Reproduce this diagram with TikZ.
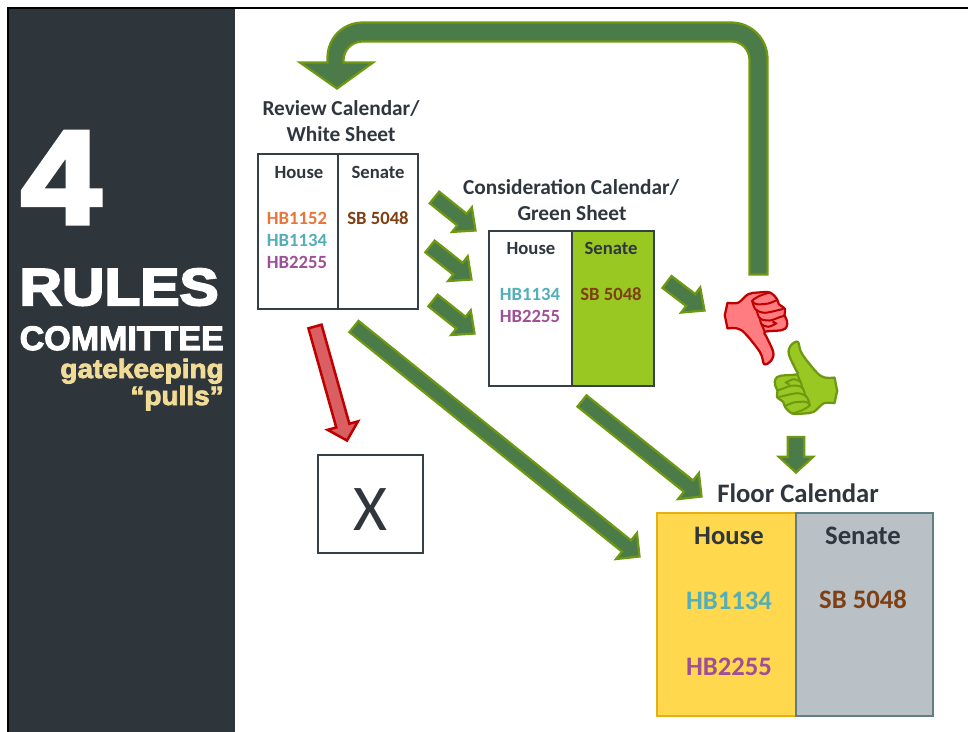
\documentclass[tikz,border=0pt]{standalone}
\usepackage{fontspec}
\setmainfont{Carlito}
\newfontfamily\fourfont{Liberation Sans}[BoldFeatures={FakeBold=4,FakeStretch=1.08}]
\newfontfamily\rulesfont{Liberation Sans}[BoldFeatures={FakeBold=4,FakeStretch=1.13}]
\newfontfamily\headfont{Liberation Sans}[BoldFeatures={FakeBold=3}]
\newfontfamily\notefont{Liberation Sans}[BoldFeatures={FakeBold=3,FakeStretch=1.05}]
\usetikzlibrary{calc}
\definecolor{panelgray}{HTML}{2E353B}
\definecolor{inkgray}{HTML}{2F363D}
\definecolor{boxgray}{HTML}{363E46}
\definecolor{arrowgreen}{HTML}{4A7B48}
\definecolor{arrowolive}{HTML}{6E9812}
\definecolor{arrowred}{HTML}{D95F63}
\definecolor{deepred}{HTML}{C00000}
\definecolor{thumbred}{HTML}{FF7C80}
\definecolor{sheetgreen}{HTML}{99C822}
\definecolor{floorgold}{HTML}{FFD84D}
\definecolor{floorgoldline}{HTML}{E6B012}
\definecolor{floorgray}{HTML}{B9C1C6}
\definecolor{floorgrayline}{HTML}{5F7F85}
\definecolor{billorange}{HTML}{E8763A}
\definecolor{billteal}{HTML}{52AEB8}
\definecolor{billpurple}{HTML}{9F4F98}
\definecolor{billbrown}{HTML}{7F3F14}
\definecolor{paledoor}{HTML}{F0DC96}
\tikzset{
	calbox/.style={draw=boxgray, line width=2.1pt, fill=white, inner sep=0, outer sep=0, minimum height=116.25pt},
	flowarrow/.style={draw=arrowolive, fill=arrowgreen, line width=1.7pt, line join=miter},
	stoparrow/.style={draw=deepred, fill=arrowred, line width=1.9pt, line join=miter},
	title/.style={anchor=base, text=inkgray, font=\fontsize{16}{16}\selectfont\bfseries},
	head/.style={anchor=base, text=inkgray, font=\fontsize{14}{14}\selectfont\bfseries},
	bill/.style={anchor=base, font=\fontsize{14}{14}\selectfont\bfseries},
	floorhead/.style={anchor=base, text=inkgray, font=\fontsize{20}{20}\selectfont\bfseries},
	floorbill/.style={anchor=base, font=\fontsize{20}{20}\selectfont\bfseries},
	sidetext/.style={anchor=base east, inner sep=0},
	pics/thumb/.style={code={
		\draw[line width=1.7pt, line join=round, pic actions] plot[smooth, tension=.55] coordinates {(-53.5,-50.2) (-43,-50.2) (-32.8,-58.8) (-22.8,-60.5) (-11.2,-60.5) (-4,-54) (-2.2,-49) (4,-44) (3.5,-38) (6,-32) (5.5,-26) (.5,-22.8) (-16.2,-21.2) (-14.5,-16.2) (-7.8,-1.2) (-9.5,7.2) (-16.8,11.2) (-21.2,-1.2) (-39.5,-22.8) (-53.5,-24.5)} -- (-56.2,-37.8) -- cycle;
		\draw[line width=1.5pt, line cap=round, pic actions, fill=none] plot[smooth] coordinates {(-11.2,-60.5) (-21.2,-57.2) (-28.8,-52.2) (-24.5,-48.8) (-12.8,-49.5) (-4,-53)};
		\draw[line width=1.5pt, line cap=round, pic actions, fill=none] plot[smooth] coordinates {(-28.8,-52.2) (-25.5,-43.5) (-16.2,-40.2) (-2.2,-43) (2,-44)};
		\draw[line width=1.5pt, line cap=round, pic actions, fill=none] plot[smooth] coordinates {(-24.5,-43.5) (-21.2,-34.5) (-11.2,-32.5) (-1,-36) (3,-37)};
		\draw[line width=1.5pt, line cap=round, pic actions, fill=none] plot[smooth] coordinates {(-21.2,-35.5) (-19.5,-28.8) (-12.8,-26.2) (-5,-29.5) (-8,-31)};
		\draw[line width=1.5pt, line cap=round, pic actions, fill=none] (-19.5,-28.8) -- (-16.2,-21.2);
	}},
}
\newcommand{\blockarrow}[6][flowarrow]{
	\coordinate (hb) at ($(#3)!#6!(#2)$);
	\draw[#1] ($(#2)!#4!90:(#3)$) -- ($(hb)!#4!-90:(#2)$) -- ($(hb)!#5!-90:(#2)$) -- (#3) -- ($(hb)!#5!90:(#2)$) -- ($(hb)!#4!90:(#2)$) -- ($(#2)!#4!-90:(#3)$) -- cycle;
}
\begin{document}
\begin{tikzpicture}[x=.75pt, y=-.75pt]
	\useasboundingbox (0,0) rectangle (968,732);
	\fill[panelgray] (8,8) rectangle (235,732);
	\draw[black, line width=1.9pt] (8,732) -- (8,8) -- (968,8);

	\node[sidetext, text=white, font=\fourfont\bfseries\fontsize{99}{99}\selectfont] (four) at (101,223) {4};
	\node[sidetext, text=white, font=\rulesfont\bfseries\fontsize{39}{39}\selectfont] (rules) at (219,305) {RULES};
	\node[sidetext, text=white, font=\headfont\bfseries\fontsize{25.5}{25.5}\selectfont] (committee) at (224,350) {COMMITTEE};
	\node[sidetext, text=paledoor, font=\notefont\bfseries\fontsize{20}{20}\selectfont] (gatekeeping) at (224,378) {gatekeeping};
	\node[sidetext, text=paledoor, font=\notefont\bfseries\fontsize{20}{20}\selectfont] (pulls) at (224,405) {“pulls”};

	\node[title] (reviewA) at (341,115) {Review Calendar/};
	\node[title] (reviewB) at (341,141) {White Sheet};
	\node[calbox, minimum width=60pt] (reviewHouse) at (298,231.5) {};
	\node[calbox, minimum width=60pt] (reviewSenate) at (378,231.5) {};
	\node[head] (reviewHouseHead) at (299,178) {House};
	\node[head] (reviewSenateHead) at (378,178) {Senate};
	\node[bill, text=billorange] (reviewBillA) at (297,224) {HB1152};
	\node[bill, text=billteal] (reviewBillB) at (297,246) {HB1134};
	\node[bill, text=billpurple] (reviewBillC) at (297,268) {HB2255};
	\node[bill, text=billbrown] (reviewBillD) at (378,224) {SB 5048};

	\node[title] (considerA) at (571,194) {Consideration Calendar/};
	\node[title] (considerB) at (572,220) {Green Sheet};
	\node[calbox, minimum width=62.25pt] (considerHouse) at (530.5,308.5) {};
	\node[calbox, fill=sheetgreen, minimum width=61.5pt] (considerSenate) at (613,308.5) {};
	\node[head] (considerHouseHead) at (531,254) {House};
	\node[head] (considerSenateHead) at (611,254) {Senate};
	\node[bill, text=billteal] (considerBillA) at (530,300) {HB1134};
	\node[bill, text=billpurple] (considerBillB) at (530,322) {HB2255};
	\node[bill, text=billbrown] (considerBillC) at (611,300) {SB 5048};

	\node[draw=boxgray, line width=2.1pt, inner sep=0, outer sep=0, minimum width=78.75pt, minimum height=73.5pt] (dead) at (370.5,504) {};
	\node[anchor=base, text=inkgray, font=\fontsize{49}{49}\selectfont] (deadMark) at (370,530) {X};

	\node[anchor=base, text=inkgray, font=\fontsize{20}{20}\selectfont\bfseries] (floorTitle) at (798,502) {Floor Calendar};
	\node[draw=floorgoldline, fill=floorgold, line width=2.1pt, inner sep=0, outer sep=0, minimum width=104.25pt, minimum height=152.25pt] (floorHouse) at (726.5,614.5) {};
	\node[draw=floorgrayline, fill=floorgray, line width=2.1pt, inner sep=0, outer sep=0, minimum width=102.75pt, minimum height=152.25pt] (floorSenate) at (864.5,614.5) {};
	\node[floorhead] (floorHouseHead) at (729,544) {House};
	\node[floorhead] (floorSenateHead) at (863,544) {Senate};
	\node[floorbill, text=billteal] (floorBillA) at (729,609) {HB1134};
	\node[floorbill, text=billpurple] (floorBillB) at (729,675) {HB2255};
	\node[floorbill, text=billbrown] (floorBillC) at (863,608) {SB 5048};

	\coordinate (moveAtail) at (434.5,197.5);
	\coordinate (moveAtip) at (475.5,230.5);
	\coordinate (moveBtail) at (430,246.5);
	\coordinate (moveBtip) at (471.5,279.5);
	\coordinate (moveCtail) at (433,300.5);
	\coordinate (moveCtip) at (474.5,333.5);
	\coordinate (stoptail) at (315,326.5);
	\coordinate (stoptip) at (347,440.5);
	\coordinate (skiptail) at (354,326.5);
	\coordinate (skiptip) at (639.5,556.5);
	\coordinate (floortail) at (582,401);
	\coordinate (floortip) at (701.5,496.5);
	\coordinate (votetail) at (667,282);
	\coordinate (votetip) at (704.5,310.5);
	\coordinate (yestail) at (796,437);
	\coordinate (yestip) at (796,472.5);
	\blockarrow{moveAtail}{moveAtip}{5.6pt}{11.8pt}{13pt}
	\blockarrow{moveBtail}{moveBtip}{5.6pt}{11.8pt}{13pt}
	\blockarrow{moveCtail}{moveCtip}{5.6pt}{11.8pt}{13pt}
	\blockarrow[stoparrow]{stoptail}{stoptip}{5.1pt}{11.8pt}{11.6pt}
	\blockarrow{skiptail}{skiptip}{5.4pt}{12.5pt}{12.5pt}
	\blockarrow{floortail}{floortip}{5.4pt}{12.5pt}{12.5pt}
	\blockarrow{votetail}{votetip}{5.6pt}{11.8pt}{13pt}
	\blockarrow{yestail}{yestip}{6.2pt}{12.9pt}{11.8pt}
	\draw[flowarrow] (767.5,274.5) -- (767.5,59) .. controls (767.5,39) and (751.6,22.5) .. (731,22.5) -- (363,22.5) .. controls (343,22.5) and (327.5,38) .. (327.5,58) -- (327.5,62.5) -- (300,62.5) -- (337,88.5) -- (373,62.5) -- (343.5,62.5) -- (343.5,60) .. controls (343.5,50) and (352,41.5) .. (362,41.5) -- (732,41.5) .. controls (742,41.5) and (749.5,50) .. (749.5,60) -- (749.5,274.5) -- cycle;

	\pic[draw=deepred, fill=thumbred] (down) at (781,353) {thumb};
	\pic[rotate=180, draw=arrowolive, fill=sheetgreen] (up) at (781,353) {thumb};
\end{tikzpicture}
\end{document}
